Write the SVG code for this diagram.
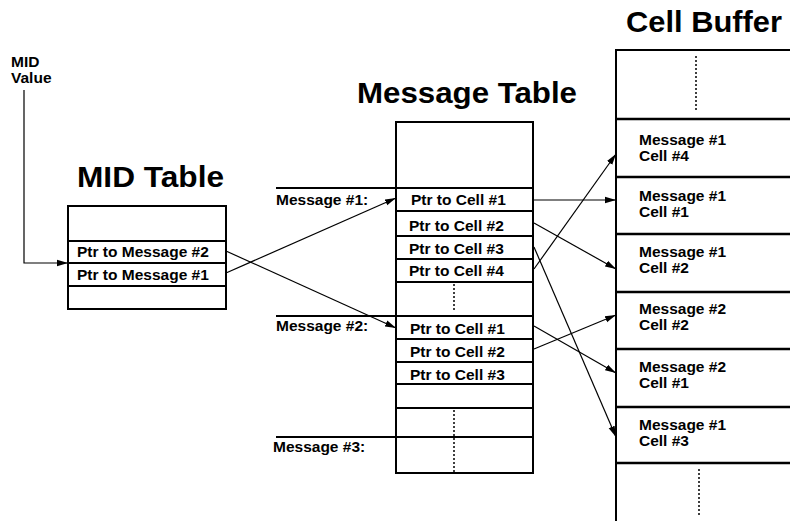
<svg xmlns="http://www.w3.org/2000/svg" width="790" height="521" viewBox="0 0 790 521">
<defs>
<style>
text{font-family:"Liberation Sans",Arial,sans-serif;font-weight:bold;fill:#000}
.t{font-size:15.5px}
.title{font-size:30px}
.box{fill:#fff;stroke:#000;stroke-width:2}
.row{stroke:#000;stroke-width:2;fill:none}
.rowc{stroke:#000;stroke-width:2.5;fill:none}
.dot{stroke:#000;stroke-width:1.5;stroke-dasharray:2,2;fill:none}
.con{stroke:#000;stroke-width:1.2;fill:none;marker-end:url(#ah)}
</style>
<marker id="ah" markerWidth="12" markerHeight="8" refX="11" refY="4" orient="auto" markerUnits="userSpaceOnUse">
<path d="M0,0.8 L11,4 L0,7.2 Z" fill="#000"/>
</marker>
</defs>
<rect width="790" height="521" fill="#fff"/>

<g id="mid-value">
<text class="t" x="11" y="67">MID</text>
<text class="t" x="11" y="83">Value</text>
</g>

<g id="mid-table">
<text class="title" x="77" y="187" textLength="147" lengthAdjust="spacingAndGlyphs">MID Table</text>
<rect class="box" x="68" y="206" width="158" height="103"/>
<line class="row" x1="68" y1="241" x2="226" y2="241"/>
<line class="row" x1="68" y1="263" x2="226" y2="263"/>
<line class="row" x1="68" y1="286" x2="226" y2="286"/>
<text class="t" x="77" y="257">Ptr to Message #2</text>
<text class="t" x="77" y="280">Ptr to Message #1</text>
</g>

<g id="message-table">
<text class="title" x="357" y="103" textLength="220" lengthAdjust="spacingAndGlyphs">Message Table</text>
<rect class="box" x="396" y="122" width="137" height="351"/>
<line class="row" x1="276" y1="188" x2="533" y2="188"/>
<line class="row" x1="396" y1="211" x2="533" y2="211"/>
<line class="row" x1="396" y1="236" x2="533" y2="236"/>
<line class="row" x1="396" y1="259" x2="533" y2="259"/>
<line class="row" x1="396" y1="282" x2="533" y2="282"/>
<line class="row" x1="276" y1="316" x2="533" y2="316"/>
<line class="row" x1="396" y1="339" x2="533" y2="339"/>
<line class="row" x1="396" y1="362" x2="533" y2="362"/>
<line class="row" x1="396" y1="384" x2="533" y2="384"/>
<line class="row" x1="396" y1="408" x2="533" y2="408"/>
<line class="row" x1="276" y1="437" x2="533" y2="437"/>
<line class="dot" x1="454" y1="284" x2="454" y2="312"/>
<line class="dot" x1="454" y1="410" x2="454" y2="472"/>
<text class="t" x="276" y="205">Message #1:</text>
<text class="t" x="276" y="331">Message #2:</text>
<text class="t" x="273" y="452">Message #3:</text>
<text class="t" x="411" y="205">Ptr to Cell #1</text>
<text class="t" x="409" y="231">Ptr to Cell #2</text>
<text class="t" x="409" y="254">Ptr to Cell #3</text>
<text class="t" x="409" y="276">Ptr to Cell #4</text>
<text class="t" x="410" y="334">Ptr to Cell #1</text>
<text class="t" x="410" y="357">Ptr to Cell #2</text>
<text class="t" x="410" y="380">Ptr to Cell #3</text>
</g>

<g id="cell-buffer">
<text class="title" x="626" y="32" textLength="156" lengthAdjust="spacingAndGlyphs">Cell Buffer</text>
<rect class="box" x="616" y="50" width="190" height="480"/>
<line class="rowc" x1="616" y1="119" x2="790" y2="119"/>
<line class="rowc" x1="616" y1="177" x2="790" y2="177"/>
<line class="rowc" x1="616" y1="234" x2="790" y2="234"/>
<line class="rowc" x1="616" y1="292" x2="790" y2="292"/>
<line class="rowc" x1="616" y1="349" x2="790" y2="349"/>
<line class="rowc" x1="616" y1="407" x2="790" y2="407"/>
<line class="rowc" x1="616" y1="463" x2="790" y2="463"/>
<line class="dot" x1="696" y1="56" x2="696" y2="112"/>
<line class="dot" x1="699" y1="469" x2="699" y2="515"/>
<text class="t" x="639" y="145">Message #1</text>
<text class="t" x="639" y="161">Cell #4</text>
<text class="t" x="639" y="201">Message #1</text>
<text class="t" x="639" y="217">Cell #1</text>
<text class="t" x="639" y="257">Message #1</text>
<text class="t" x="639" y="273">Cell #2</text>
<text class="t" x="639" y="314">Message #2</text>
<text class="t" x="639" y="330">Cell #2</text>
<text class="t" x="639" y="372">Message #2</text>
<text class="t" x="639" y="388">Cell #1</text>
<text class="t" x="639" y="430">Message #1</text>
<text class="t" x="639" y="446">Cell #3</text>
</g>

<g id="connectors">
<path class="con" d="M24,90 L24,263 L68,263"/>
<path class="con" d="M226,251 L396,328"/>
<path class="con" d="M226,273 L396,198"/>
<path class="con" d="M534,200 L616,200"/>
<path class="con" d="M534,223 L616,269"/>
<path class="con" d="M534,247 L616,437"/>
<path class="con" d="M534,269 L616,154"/>
<path class="con" d="M534,326 L616,373"/>
<path class="con" d="M534,349 L616,315"/>
</g>
</svg>
